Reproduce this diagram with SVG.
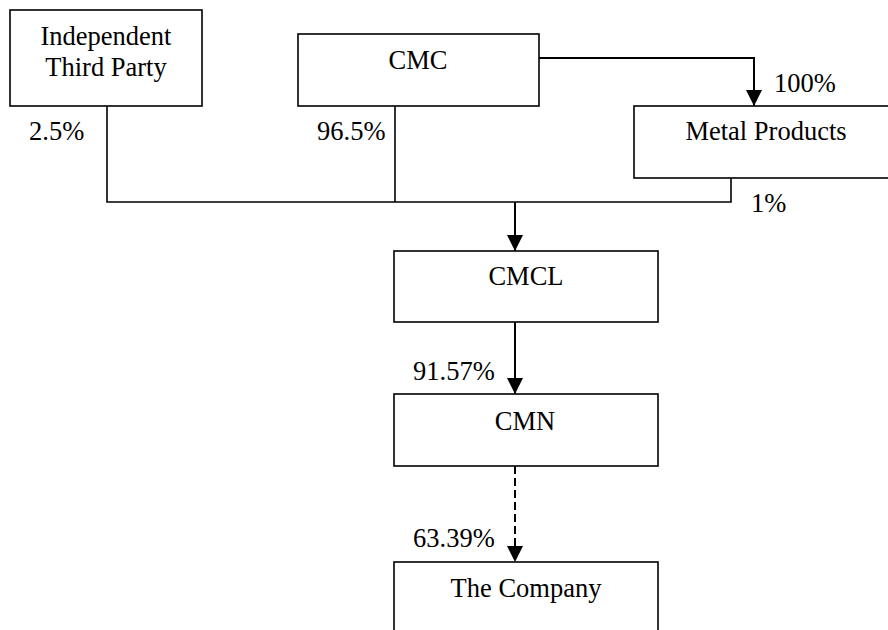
<svg xmlns="http://www.w3.org/2000/svg" width="888" height="630" viewBox="0 0 888 630">
<style>
.box{fill:#fff;stroke:#000;stroke-width:1.6}
.t{font-family:"Liberation Serif","Times New Roman",serif;font-size:26.5px;fill:#000}
.c{text-anchor:middle}
.ln{fill:none;stroke:#000;stroke-width:1.6}
.ar{fill:none;stroke:#000;stroke-width:2}
</style>
<defs>
<marker id="ah" markerUnits="userSpaceOnUse" markerWidth="16" markerHeight="16" viewBox="0 0 16 16" refX="16" refY="8" orient="auto">
<path d="M0,0 L16,8 L0,16 Z" fill="#000"/>
</marker>
</defs>
<rect width="888" height="630" fill="#fff"/>
<g id="connectors">
<polyline class="ln" points="107,106 107,202 731,202 731,178"/>
<line class="ln" x1="395" y1="106" x2="395" y2="202"/>
<polyline class="ar" points="539,58 754,58 754,106" marker-end="url(#ah)"/>
<line class="ar" x1="515" y1="202" x2="515" y2="251" marker-end="url(#ah)"/>
<line class="ar" x1="515" y1="322" x2="515" y2="394" marker-end="url(#ah)"/>
<line class="ar" x1="515" y1="466" x2="515" y2="562" stroke-dasharray="8,4" marker-end="url(#ah)"/>
</g>
<g id="labels">
<text class="t" x="29" y="140">2.5%</text>
<text class="t" x="317" y="140">96.5%</text>
<text class="t" x="774" y="92">100%</text>
<text class="t" x="751" y="212">1%</text>
<text class="t" x="413" y="380">91.57%</text>
<text class="t" x="413" y="547">63.39%</text>
</g>
<g id="independent">
<rect class="box" x="10" y="10" width="192" height="96"/>
<text class="t c" x="106" y="45">Independent</text>
<text class="t c" x="106" y="76">Third Party</text>
</g>
<g id="cmc">
<rect class="box" x="298" y="34" width="241" height="72"/>
<text class="t c" x="418" y="69">CMC</text>
</g>
<g id="metal-products">
<rect class="box" x="634" y="106" width="265" height="72"/>
<text class="t c" x="766" y="140">Metal Products</text>
</g>
<g id="cmcl">
<rect class="box" x="394" y="251" width="264" height="71"/>
<text class="t c" x="526" y="285">CMCL</text>
</g>
<g id="cmn">
<rect class="box" x="394" y="394" width="264" height="72"/>
<text class="t c" x="525" y="430">CMN</text>
</g>
<g id="the-company">
<rect class="box" x="394" y="562" width="264" height="80"/>
<text class="t c" x="526" y="597">The Company</text>
</g>
</svg>
